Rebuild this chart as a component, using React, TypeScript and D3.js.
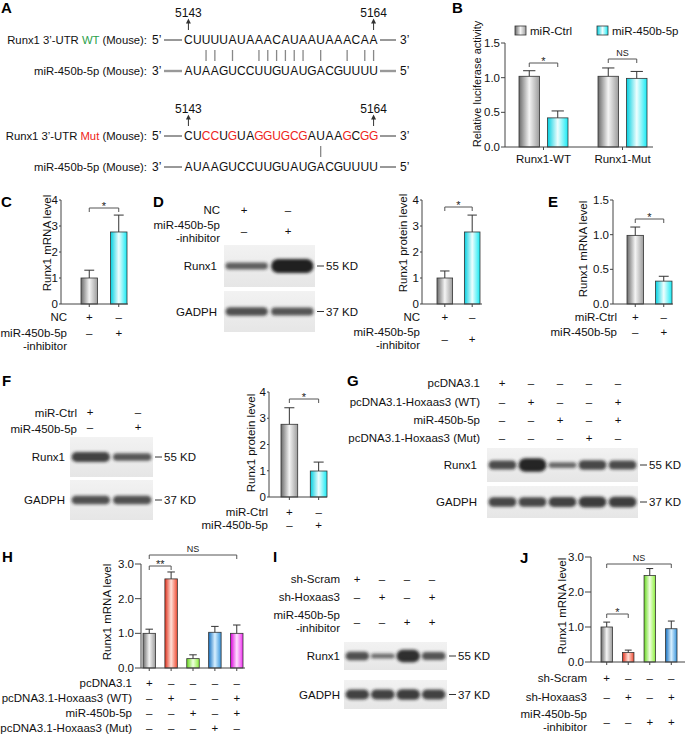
import React from "react";
import * as d3 from "d3";

const FONT = "'Liberation Sans', Arial, Helvetica, sans-serif";
const RED = "#ee2420";
const GREEN = "#2a9f4a";

// ---- A: Runx1 3'-UTR binding site
const siteLabels = ["5143", "5164"];
const utrWT = "CUUUUAUAAACAUAAUAAACAA";
const utrMut = "CUCCUGUAGGUGCGAUAAGCGG";
const mir450b = "AUAAGUCCUUGUAUGACGUUUU"; // written 3' -> 5'

// ---- B: luciferase
const lucGroups = ["Runx1-WT", "Runx1-Mut"];
const lucSeries = ["miR-Ctrl", "miR-450b-5p"];
const lucMean = [[1.02, 0.42], [1.02, 0.99]];
const lucSd = [[0.08, 0.1], [0.12, 0.1]];

// ---- C: mRNA, inhibitor
const cMean = [1.0, 2.77];
const cSd = [0.3, 0.65];
const inhibRows = ["NC", "miR-450b-5p|-inhibitor"];
const inhibSigns = [[1, 0], [0, 1]];

// ---- D: protein, inhibitor
const dMean = [1.0, 2.77];
const dSd = [0.27, 0.65];
const dBlot = [[0.35, 1.0], [0.5, 0.45]];

// ---- E: mRNA, mimic
const eMean = [0.99, 0.33];
const eSd = [0.12, 0.07];
const mimicRows = ["miR-Ctrl", "miR-450b-5p"];
const mimicSigns = [[1, 0], [0, 1]];

// ---- F: protein, mimic
const fMean = [2.77, 0.99];
const fSd = [0.63, 0.34];
const fBlot = [[0.65, 0.42], [0.5, 0.5]];

// ---- G / H: Hoxaas3 overexpression
const hoxRows = ["pcDNA3.1", "pcDNA3.1-Hoxaas3 (WT)", "miR-450b-5p", "pcDNA3.1-Hoxaas3 (Mut)"];
const hoxSigns = [
  [1, 0, 0, 0, 0],
  [0, 1, 0, 0, 1],
  [0, 0, 1, 0, 1],
  [0, 0, 0, 1, 0],
];
const gBlot = [[0.55, 0.95, 0.25, 0.6, 0.55], [0.6, 0.6, 0.65, 0.72, 0.68]];
const hMean = [1.0, 2.57, 0.27, 1.03, 1.0];
const hSd = [0.12, 0.2, 0.11, 0.17, 0.24];

// ---- I / J: Hoxaas3 knockdown
const shRows = ["sh-Scram", "sh-Hoxaas3", "miR-450b-5p|-inhibitor"];
const shSigns = [
  [1, 0, 0, 0],
  [0, 1, 0, 1],
  [0, 0, 1, 1],
];
const iBlot = [[0.5, 0.2, 0.85, 0.45], [0.65, 0.65, 0.7, 0.65]];
const jMean = [1.0, 0.27, 2.47, 0.95];
const jSd = [0.14, 0.07, 0.2, 0.22];

const blotNames = ["Runx1", "GADPH"];
const blotMarkers = ["55 KD", "37 KD"];

const grads: Record<string, string[]> = {
  gray: ["#6a6a6a", "#f4f4f4", "#9c9c9c"],
  cyan: ["#00cfe0", "#effefe", "#16eaf4"],
  red: ["#e0301c", "#ffe0d8", "#f04a32"],
  green: ["#66d81c", "#f0ffe0", "#8cf03c"],
  blue: ["#1670c0", "#d8f0ff", "#3694dc"],
  mag: ["#d800d8", "#ffe0ff", "#f030f0"],
};

const fmt1 = d3.format(".1f");
const fmt0 = d3.format("d");

function Defs() {
  return (
    <defs>
      {Object.entries(grads).map(([k, c]) => (
        <linearGradient key={k} id={`g-${k}`} x1="0" x2="1" y1="0" y2="0">
          <stop offset="0" stopColor={c[0]} />
          <stop offset="0.5" stopColor={c[1]} />
          <stop offset="1" stopColor={c[2]} />
        </linearGradient>
      ))}
      <linearGradient id="blotBg" x1="0" x2="0" y1="0" y2="1">
        <stop offset="0" stopColor="#f2f2f2" />
        <stop offset="1" stopColor="#e6e6e6" />
      </linearGradient>
      <filter id="blur" x="-20%" y="-80%" width="140%" height="260%">
        <feGaussianBlur stdDeviation="1.5" />
      </filter>
    </defs>
  );
}

// sequence layout shared by both blocks of A
const seqX = d3.scaleBand<number>().domain(d3.range(utrWT.length)).range([184, 378]);
const sc = (i: number) => (seqX(i) ?? 0) + seqX.bandwidth() / 2;
const wc: Record<string, string> = { A: "U", U: "A", G: "C", C: "G" };

function SeqBlock({ top, utr, tag, tagColor, thick }: any) {
  const y1 = top + 40;
  const y2 = top + 71;
  const ends = [0, utr.length - 1];
  const mirLine = thick ? { stroke: "#999", strokeWidth: 2.4 } : { stroke: "#333", strokeWidth: 1 };
  return (
    <g fontSize={12} fill="#111">
      {ends.map((i, k) => (
        <g key={k}>
          <text x={sc(i)} y={top + 13} dy="0.35em" textAnchor="middle">{siteLabels[k]}</text>
          <line x1={sc(i)} x2={sc(i)} y1={top + 30} y2={top + 22} stroke="#333" />
          <path d={`M${sc(i) - 2.5},${top + 23.5}L${sc(i)},${top + 18.5}L${sc(i) + 2.5},${top + 23.5}Z`} fill="#333" />
        </g>
      ))}
      <text x={147} y={y1} dy="0.35em" textAnchor="end" fontSize={11.3}>
        {"Runx1 3’-UTR "}<tspan fill={tagColor}>{tag}</tspan>{" (Mouse):"}
      </text>
      <text x={152} y={y1} dy="0.35em">5’</text>
      <line x1={164} x2={182} y1={y1} y2={y1} stroke="#333" />
      {utr.split("").map((c: string, i: number) => (
        <text key={i} x={sc(i)} y={y1} dy="0.35em" textAnchor="middle" fill={c !== utrWT[i] ? RED : "#111"}>{c}</text>
      ))}
      <line x1={380} x2={396} y1={y1} y2={y1} stroke="#333" />
      <text x={400} y={y1} dy="0.35em">3’</text>
      {utr.split("").map((c: string, i: number) =>
        wc[c] === mir450b[i] ? (
          <line key={i} x1={sc(i)} x2={sc(i)} y1={top + 50} y2={top + 61} stroke="#888" strokeWidth={1.3} />
        ) : null
      )}
      <text x={147} y={y2} dy="0.35em" textAnchor="end" fontSize={11.3}>miR-450b-5p (Mouse):</text>
      <text x={152} y={y2} dy="0.35em">3’</text>
      <line x1={164} x2={182} y1={y2} y2={y2} {...mirLine} />
      {mir450b.split("").map((c, i) => (
        <text key={i} x={sc(i)} y={y2} dy="0.35em" textAnchor="middle">{c}</text>
      ))}
      <line x1={380} x2={396} y1={y2} y2={y2} {...mirLine} />
      <text x={400} y={y2} dy="0.35em">5’</text>
    </g>
  );
}

function Conditions({ rows, signs, labelX, rowY, signY, xAt }: any) {
  return (
    <g fontSize={11.5} fill="#111">
      {rows.map((r: string, i: number) => (
        <g key={i}>
          {r.split("|").map((ln, k) => (
            <text key={k} x={labelX} y={rowY[i] + k * 12.5} dy="0.35em" textAnchor="end">{ln}</text>
          ))}
          {signs[i].map((s: number, j: number) => (
            <text key={j} x={xAt(j)} y={signY[i]} dy="0.35em" textAnchor="middle">{s ? "+" : "–"}</text>
          ))}
        </g>
      ))}
    </g>
  );
}

function Bracket({ x1, x2, y, label }: any) {
  const ns = label === "NS";
  return (
    <g>
      <path d={`M${x1},${y + 4}V${y}H${x2}V${y + 4}`} fill="none" stroke="#555" strokeWidth={1} />
      <text x={(x1 + x2) / 2} y={ns ? y - 3 : y + 1.5} textAnchor="middle" fontSize={ns ? 9 : 11} fill="#222">{label}</text>
    </g>
  );
}

function YAxis({ ax, y, ticks, fmt, tickLen }: any) {
  const [y0, y1] = y.range();
  return (
    <g>
      <line x1={ax} x2={ax} y1={y0} y2={y1} stroke="#444" />
      {ticks.map((t: number) => (
        <g key={t}>
          <line x1={ax - tickLen} x2={ax} y1={y(t)} y2={y(t)} stroke="#444" />
          <text x={ax - tickLen - 1} y={y(t)} dy="0.35em" textAnchor="end" fontSize={11.5} fill="#111">{fmt(t)}</text>
        </g>
      ))}
    </g>
  );
}

function YLabel({ x, y, text, size = 11.5 }: any) {
  return (
    <text transform={`translate(${x},${y}) rotate(-90)`} textAnchor="middle" dy="0.35em" fontSize={size} fill="#111">{text}</text>
  );
}

function ErrBar({ cx, yTop, yErr, half }: any) {
  return (
    <g stroke="#333" strokeWidth={1}>
      <line x1={cx} x2={cx} y1={yTop} y2={yErr} />
      <line x1={cx - half} x2={cx + half} y1={yErr} y2={yErr} />
    </g>
  );
}

function BarPanel(p: any) {
  const y = d3.scaleLinear().domain([0, p.max]).range([p.y0, p.yTop]);
  const x = d3.scaleBand<number>().domain(d3.range(p.means.length)).range(p.band).paddingInner(p.pi);
  const cx = (i: number) => (x(i) ?? 0) + x.bandwidth() / 2;
  return (
    <g>
      {p.means.map((m: number, i: number) => (
        <g key={i}>
          <rect x={x(i)} y={y(m)} width={x.bandwidth()} height={p.y0 - y(m)} fill={`url(#g-${p.fills[i]})`} stroke="#333" strokeWidth={0.8} />
          <ErrBar cx={cx(i)} yTop={y(m)} yErr={y(m + p.sds[i])} half={x.bandwidth() * 0.3} />
        </g>
      ))}
      <YAxis ax={p.ax} y={y} ticks={p.ticks} fmt={p.fmt} tickLen={p.tickLen} />
      <line x1={p.ax} x2={p.xEnd} y1={p.y0} y2={p.y0} stroke="#444" />
      {p.means.map((_: number, i: number) => (
        <line key={i} x1={cx(i)} x2={cx(i)} y1={p.y0} y2={p.y0 + 3} stroke="#444" />
      ))}
      {p.brackets.map((b: any, k: number) => (
        <Bracket key={k} x1={cx(b.a)} x2={cx(b.b)} y={b.y} label={b.label} />
      ))}
      <YLabel x={p.yLabelX} y={p.yLabelY} text={p.yLabel} />
      <Conditions rows={p.rows} signs={p.signs} labelX={p.labelX} rowY={p.rowY} signY={p.signY} xAt={cx} />
    </g>
  );
}

function Blot({ x0, x1, boxes, dens, labelX, markX }: any) {
  const lane = d3.scaleBand<number>().domain(d3.range(dens[0].length)).range([x0 + 1.5, x1 - 1.5]).paddingInner(0.07);
  const h = d3.scaleLinear().domain([0, 1]).range([3, 14]);
  return (
    <g fontSize={11.5} fill="#111">
      {boxes.map((b: number[], i: number) => {
        const cy = (b[0] + b[1]) / 2;
        return (
          <g key={i}>
            <rect x={x0} y={b[0]} width={x1 - x0} height={b[1] - b[0]} fill="url(#blotBg)" />
            {dens[i].map((d: number, j: number) => (
              <rect key={j} x={lane(j)} y={cy - h(d) / 2} width={lane.bandwidth()} height={h(d)} rx={h(d) / 2}
                fill="#151515" opacity={0.5 + 0.45 * d} filter="url(#blur)" />
            ))}
            <text x={labelX} y={cy} dy="0.35em" textAnchor="end">{blotNames[i]}</text>
            <line x1={markX} x2={markX + 7} y1={cy} y2={cy} stroke="#333" />
            <text x={markX + 9} y={cy} dy="0.35em">{blotMarkers[i]}</text>
          </g>
        );
      })}
    </g>
  );
}

function PanelB() {
  const y = d3.scaleLinear().domain([0, 1.5]).range([147, 43]);
  const gx = d3.scaleBand<number>().domain(d3.range(lucGroups.length)).range([519, 647]).paddingInner(0.38);
  const sx = d3.scaleBand<number>().domain(d3.range(lucSeries.length)).range([0, gx.bandwidth()]).paddingInner(0.28);
  const fills = ["gray", "cyan"];
  const legX = [515, 597];
  const bx = (g: number, s: number) => (gx(g) ?? 0) + (sx(s) ?? 0);
  const bc = (g: number, s: number) => bx(g, s) + sx.bandwidth() / 2;
  const gc = (g: number) => (gx(g) ?? 0) + gx.bandwidth() / 2;
  return (
    <g>
      {lucSeries.map((s, i) => (
        <g key={s}>
          <rect x={legX[i]} y={26} width={11} height={9} fill={`url(#g-${fills[i]})`} stroke="#333" strokeWidth={0.8} />
          <text x={legX[i] + 15} y={30.5} dy="0.35em" fontSize={11.5} fill="#111">{s}</text>
        </g>
      ))}
      {lucMean.map((row, g) =>
        row.map((m, s) => (
          <g key={`${g}-${s}`}>
            <rect x={bx(g, s)} y={y(m)} width={sx.bandwidth()} height={147 - y(m)} fill={`url(#g-${fills[s]})`} stroke="#333" strokeWidth={0.8} />
            <ErrBar cx={bc(g, s)} yTop={y(m)} yErr={y(m + lucSd[g][s])} half={sx.bandwidth() * 0.3} />
          </g>
        ))
      )}
      <YAxis ax={505} y={y} ticks={[0, 0.5, 1, 1.5]} fmt={fmt1} tickLen={4} />
      <line x1={505} x2={653} y1={147} y2={147} stroke="#444" />
      {lucGroups.map((g, i) => (
        <g key={g}>
          <line x1={gc(i)} x2={gc(i)} y1={147} y2={150} stroke="#444" />
          <text x={gc(i)} y={159} dy="0.35em" textAnchor="middle" fontSize={11.5} fill="#111">{g}</text>
        </g>
      ))}
      <Bracket x1={bc(0, 0)} x2={bc(0, 1)} y={63} label="*" />
      <Bracket x1={bc(1, 0)} x2={bc(1, 1)} y={59} label="NS" />
      <YLabel x={477} y={84} text="Relative luciferase activity" size={11} />
    </g>
  );
}

const letters = [
  { t: "A", x: 1, y: 13 }, { t: "B", x: 452, y: 13 }, { t: "C", x: 1, y: 207 },
  { t: "D", x: 153, y: 207 }, { t: "E", x: 548, y: 207 }, { t: "F", x: 2, y: 386 },
  { t: "G", x: 347, y: 386 }, { t: "H", x: 2, y: 562 }, { t: "I", x: 273, y: 562 },
  { t: "J", x: 520, y: 563 },
];

export default function App() {
  const dSign = d3.scalePoint<number>().domain([0, 1]).range([244, 288]);
  const fSign = d3.scalePoint<number>().domain([0, 1]).range([90, 138]);
  const gSign = d3.scalePoint<number>().domain(d3.range(5)).range([502, 618]);
  const iSign = d3.scalePoint<number>().domain(d3.range(4)).range([357, 432]);
  return (
    <svg width={685} height={735} viewBox="0 0 685 735" fontFamily={FONT}
      style={{ position: "absolute", left: 0, top: 0, background: "#fff" }}>
      <Defs />
      <rect width={685} height={735} fill="#fff" />
      {letters.map((l) => (
        <text key={l.t} x={l.x} y={l.y} fontSize={15} fontWeight="bold" fill="#000">{l.t}</text>
      ))}

      {/* A */}
      <SeqBlock top={0} utr={utrWT} tag="WT" tagColor={GREEN} thick />
      <SeqBlock top={96} utr={utrMut} tag="Mut" tagColor={RED} thick={false} />

      {/* B */}
      <PanelB />

      {/* C */}
      <BarPanel ax={61} y0={304} yTop={200} xEnd={128} max={4} ticks={[0, 1, 2, 3, 4]} fmt={fmt0} tickLen={2}
        band={[81, 127]} pi={0.44} means={cMean} sds={cSd} fills={["gray", "cyan"]}
        brackets={[{ a: 0, b: 1, y: 208, label: "*" }]}
        yLabel="Runx1 mRNA level" yLabelX={47} yLabelY={243}
        rows={inhibRows} signs={inhibSigns} labelX={67} rowY={[317, 333]} signY={[317, 333]} />

      {/* D */}
      <Conditions rows={inhibRows} signs={inhibSigns} labelX={220} rowY={[210, 225]} signY={[210, 231]} xAt={dSign} />
      <Blot x0={224} x1={315} boxes={[[245, 287], [291, 332]]} dens={dBlot} labelX={217} markX={317} />
      <BarPanel ax={422} y0={304} yTop={200} xEnd={482} max={4} ticks={[0, 1, 2, 3, 4]} fmt={fmt0} tickLen={2}
        band={[437, 480]} pi={0.43} means={dMean} sds={dSd} fills={["gray", "cyan"]}
        brackets={[{ a: 0, b: 1, y: 207, label: "*" }]}
        yLabel="Runx1 protein level" yLabelX={403} yLabelY={243}
        rows={inhibRows} signs={inhibSigns} labelX={420} rowY={[317, 332]} signY={[317, 339]} />

      {/* E */}
      <BarPanel ax={613} y0={304} yTop={200} xEnd={673} max={1.5} ticks={[0, 0.5, 1, 1.5]} fmt={fmt1} tickLen={3}
        band={[627, 672]} pi={0.42} means={eMean} sds={eSd} fills={["gray", "cyan"]}
        brackets={[{ a: 0, b: 1, y: 219, label: "*" }]}
        yLabel="Runx1 mRNA level" yLabelX={583} yLabelY={249}
        rows={mimicRows} signs={mimicSigns} labelX={617} rowY={[317, 332]} signY={[317, 332]} />

      {/* F */}
      <Conditions rows={mimicRows} signs={mimicSigns} labelX={77} rowY={[413, 429]} signY={[412, 427]} xAt={fSign} />
      <Blot x0={70} x1={153} boxes={[[437, 477], [480, 520]]} dens={fBlot} labelX={65} markX={155} />
      <BarPanel ax={269} y0={497} yTop={392} xEnd={327} max={4} ticks={[0, 1, 2, 3, 4]} fmt={fmt0} tickLen={2}
        band={[281, 327]} pi={0.43} means={fMean} sds={fSd} fills={["gray", "cyan"]}
        brackets={[{ a: 0, b: 1, y: 399, label: "*" }]}
        yLabel="Runx1 protein level" yLabelX={251} yLabelY={443}
        rows={mimicRows} signs={mimicSigns} labelX={268} rowY={[512, 525]} signY={[512, 525]} />

      {/* G */}
      <Conditions rows={hoxRows} signs={hoxSigns} labelX={480} rowY={[383, 402, 420, 438]} signY={[383, 402, 420, 438]} xAt={gSign} />
      <Blot x0={487} x1={638} boxes={[[448, 482], [486, 518]]} dens={gBlot} labelX={477} markX={640} />

      {/* H */}
      <BarPanel ax={141} y0={668} yTop={564} xEnd={245} max={3} ticks={[0, 1, 2, 3]} fmt={fmt1} tickLen={6}
        band={[143, 243]} pi={0.43} means={hMean} sds={hSd} fills={["gray", "red", "green", "blue", "mag"]}
        brackets={[{ a: 0, b: 4, y: 555, label: "NS" }, { a: 0, b: 1, y: 566, label: "**" }]}
        yLabel="Runx1 mRNA level" yLabelX={107} yLabelY={612}
        rows={hoxRows} signs={hoxSigns} labelX={132} rowY={[683, 698, 713, 728]} signY={[683, 698, 713, 728]} />

      {/* I */}
      <Conditions rows={shRows} signs={shSigns} labelX={340} rowY={[579, 597, 615]} signY={[579, 597, 622]} xAt={iSign} />
      <Blot x0={344} x1={447} boxes={[[642, 670], [680, 709]]} dens={iBlot} labelX={340} markX={449} />

      {/* J */}
      <BarPanel ax={591} y0={662} yTop={557} xEnd={685} max={3} ticks={[0, 1, 2, 3]} fmt={fmt1} tickLen={6}
        band={[601, 677]} pi={0.47} means={jMean} sds={jSd} fills={["gray", "red", "green", "blue"]}
        brackets={[{ a: 0, b: 3, y: 564, label: "NS" }, { a: 0, b: 1, y: 614, label: "*" }]}
        yLabel="Runx1 mRNA level" yLabelX={562} yLabelY={606}
        rows={shRows} signs={shSigns} labelX={587} rowY={[678, 697, 714]} signY={[678, 697, 722]} />
    </svg>
  );
}
